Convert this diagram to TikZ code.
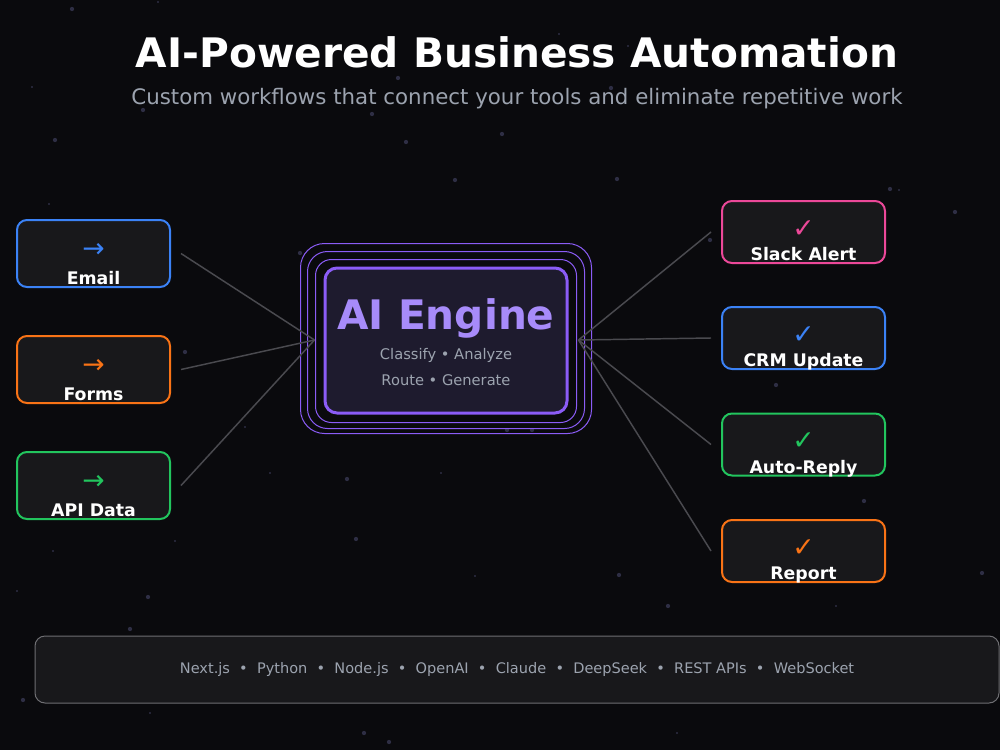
\documentclass[tikz,border=0pt]{standalone}
\usepackage{fontspec}
\setmainfont{DejaVu Sans}
\usepackage{xcolor}
\usetikzlibrary{positioning, calc}

\definecolor{bg}{HTML}{0A0A0D}
\definecolor{card}{HTML}{18181B}
\definecolor{engfill}{HTML}{1E1B2E}
\definecolor{violet}{HTML}{8B5CF6}
\definecolor{lilac}{HTML}{A78BFA}
\definecolor{muted}{HTML}{9CA3AF}
\definecolor{wire}{HTML}{4A4A4F}
\definecolor{dot}{HTML}{2E2E44}
\definecolor{cblue}{HTML}{3B82F6}
\definecolor{corange}{HTML}{F97316}
\definecolor{cgreen}{HTML}{22C55E}
\definecolor{cpink}{HTML}{EC4899}

\begin{document}
\begin{tikzpicture}[
  x=0.75pt, y=-0.75pt,
  srcbox/.style={
    draw, fill=card, rounded corners=7.5pt, line width=1.5pt,
    minimum width=114.75pt, minimum height=50.25pt, inner sep=0pt
  },
  outbox/.style={
    draw, fill=card, rounded corners=7.5pt, line width=1.5pt,
    minimum width=122.25pt, minimum height=46.5pt, inner sep=0pt
  },
  glyph/.style={font=\fontsize{20}{24}\selectfont, inner sep=0pt},
  boxlabel/.style={font=\fontsize{13}{15}\selectfont\bfseries, text=white, anchor=base, inner sep=0pt},
  halo/.style={draw=violet, line width=0.75pt},
  wireline/.style={draw=wire, line width=1.1pt},
  note/.style={font=\fontsize{11}{13}\selectfont, text=muted, inner sep=0pt}
]

% --- Canvas and starfield ---
\fill[bg] (0,0) rectangle (1000,750);
\useasboundingbox (0,0) rectangle (1000,750);
\foreach \x/\y in {72/9, 143/110, 55/140, 398/78, 372/114, 406/142, 455/180, 611/88,
                   502/134, 617/179, 890/189, 955/212, 148/597, 130/629, 356/539,
                   23/700, 364/733, 389/742, 532/430, 864/501, 619/575, 507/430,
                   347/479, 300/253, 710/240, 776/385, 185/352, 668/606, 982/573}
  \fill[dot] (\x,\y) circle (1.6pt);
\foreach \x/\y in {158/2, 32/87, 49/204, 559/34, 628/46, 899/190, 53/551, 175/541,
                   17/591, 150/713, 245/427, 270/473, 441/473, 475/576, 677/733, 836/606}
  \fill[dot] (\x,\y) circle (0.8pt);

% --- Heading ---
\node[font=\fontsize{30.5}{36}\selectfont\bfseries, text=white] (title) at (517,52) {AI-Powered Business Automation};
\node[font=\fontsize{16}{19}\selectfont, text=muted] (subtitle) at (517,98.5) {Custom workflows that connect your tools and eliminate repetitive work};

% --- Inputs (left) ---
\node[srcbox, draw=cblue] (email) at (93.5,253.5) {};
\node[glyph, text=cblue] (emailicon) at ($(email.center)+(0,-3)$) {→};
\node[boxlabel] (emaillbl) at ($(email.south)+(0,-3.5)$) {Email};

\node[srcbox, draw=corange] (forms) at (93.5,369.5) {};
\node[glyph, text=corange] (formsicon) at ($(forms.center)+(0,-3)$) {→};
\node[boxlabel] (formslbl) at ($(forms.south)+(0,-3.5)$) {Forms};

\node[srcbox, draw=cgreen] (api) at (93.5,485.5) {};
\node[glyph, text=cgreen] (apiicon) at ($(api.center)+(0,-3)$) {→};
\node[boxlabel] (apilbl) at ($(api.south)+(0,-3.5)$) {API Data};

% --- AI engine with halo rings ---
\node[draw=violet, fill=engfill, rounded corners=9pt, line width=2.25pt,
      minimum width=181.5pt, minimum height=108.75pt] (engine) at (446,340.5) {};
\draw[halo, rounded corners=12pt] ($(engine.north west)+(-8,-7)$) rectangle ($(engine.south east)+(8,8)$);
\draw[halo, rounded corners=15pt] ($(engine.north west)+(-16,-15)$) rectangle ($(engine.south east)+(16,14)$);
\draw[halo, rounded corners=18pt] ($(engine.north west)+(-23,-23)$) rectangle ($(engine.south east)+(23,19)$);
\node[font=\fontsize{30.5}{36}\selectfont\bfseries, text=lilac] (engname) at (446,318) {AI Engine};
\node[note] (engtasks1) at (446,355) {Classify • Analyze};
\node[note] (engtasks2) at (446,380) {Route • Generate};

\coordinate (hubL) at ($(engine.west)+(-9,-0.5)$);
\coordinate (hubR) at ($(engine.east)+(10,-0.5)$);

% --- Outputs (right) ---
\node[outbox, draw=cpink] (slack) at (803.5,232) {};
\node[glyph, text=cpink] (slackicon) at ($(slack.center)+(0,-3)$) {✓};
\node[boxlabel] (slacklbl) at ($(slack.south)+(0,-3.5)$) {Slack Alert};

\node[outbox, draw=cblue] (crm) at (803.5,338) {};
\node[glyph, text=cblue] (crmicon) at ($(crm.center)+(0,-3)$) {✓};
\node[boxlabel] (crmlbl) at ($(crm.south)+(0,-3.5)$) {CRM Update};

\node[outbox, draw=cgreen] (reply) at (803.5,444.5) {};
\node[glyph, text=cgreen] (replyicon) at ($(reply.center)+(0,-3)$) {✓};
\node[boxlabel] (replylbl) at ($(reply.south)+(0,-3.5)$) {Auto-Reply};

\node[outbox, draw=corange] (report) at (803.5,551) {};
\node[glyph, text=corange] (reporticon) at ($(report.center)+(0,-3)$) {✓};
\node[boxlabel] (reportlbl) at ($(report.south)+(0,-3.5)$) {Report};

% --- Connectors ---
\foreach \src in {email, forms, api}
  \draw[wireline] ($(\src.east)+(10,0)$) -- (hubL);
\foreach \dst in {slack, crm, reply, report}
  \draw[wireline] (hubR) -- ($(\dst.west)+(-10,0)$);

% --- Tech stack footer ---
\node[draw=wire!80, fill=card, rounded corners=7.5pt, line width=0.75pt,
      minimum width=723pt, minimum height=50.25pt] (stack) at (517,669.5) {};
\node[font=\fontsize{10.9}{13}\selectfont, text=muted] (stacklist) at (stack.center)
  {Next.js \ • \ Python \ • \ Node.js \ • \ OpenAI \ • \ Claude \ • \ DeepSeek \ • \ REST APIs \ • \ WebSocket};

\end{tikzpicture}
\end{document}
